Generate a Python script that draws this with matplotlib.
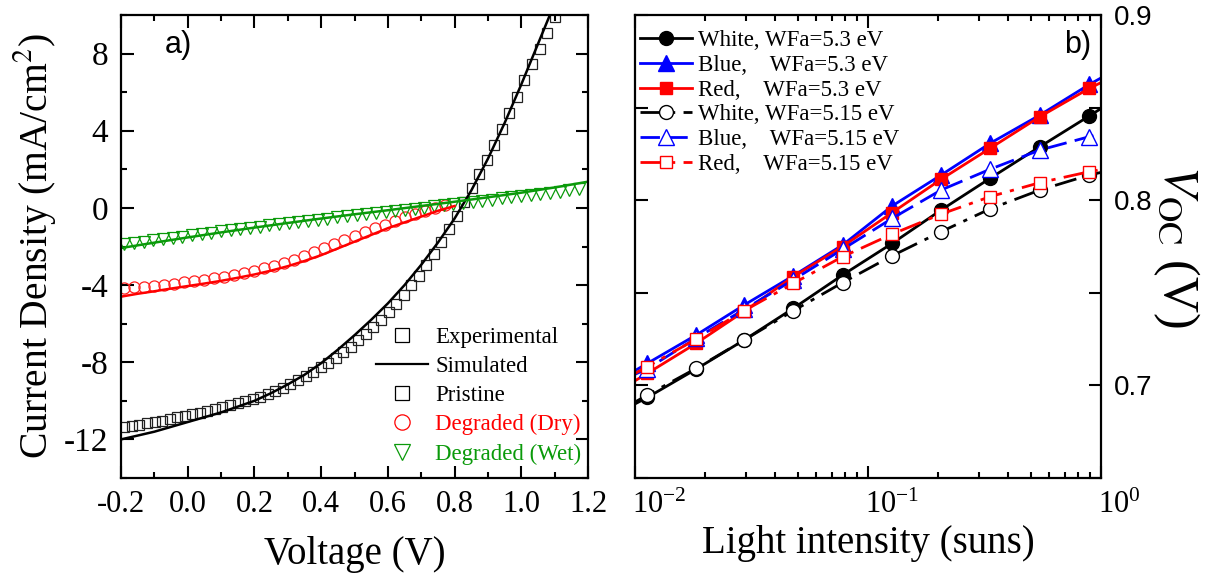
import numpy as np
import matplotlib
matplotlib.use("Agg")
import matplotlib.pyplot as plt
from matplotlib.lines import Line2D
from matplotlib.ticker import MultipleLocator, FixedLocator, FuncFormatter, LogLocator, NullFormatter
from matplotlib.transforms import ScaledTranslation

plt.rcParams['font.family'] = ['Liberation Serif', 'DejaVu Serif']
plt.rcParams['mathtext.fontset'] = 'stix'
plt.rcParams['axes.unicode_minus'] = False

# ---------------- Panel a) data ----------------
v_pristine = np.linspace(-0.19, 1.10, 58)
j_pristine = [-11.35, -11.30, -11.24, -11.17, -11.10, -11.02, -10.94, -10.86, -10.78, -10.70,
              -10.61, -10.52, -10.42, -10.33, -10.23, -10.13, -10.02, -9.92, -9.79, -9.64,
              -9.48, -9.31, -9.13, -8.93, -8.71, -8.49, -8.27, -8.02, -7.76, -7.48,
              -7.19, -6.87, -6.53, -6.17, -5.80, -5.41, -4.96, -4.51, -4.02, -3.52,
              -2.97, -2.38, -1.77, -1.10, -0.40, 0.30, 1.03, 1.76, 2.48, 3.28,
              4.07, 4.90, 5.76, 6.62, 7.45, 8.26, 9.08, 9.88]

v_dry = np.linspace(-0.19, 0.77, 33)
j_dry = [-4.15, -4.12, -4.08, -4.03, -3.98, -3.92, -3.86, -3.79, -3.72, -3.64,
         -3.56, -3.47, -3.37, -3.26, -3.14, -3.00, -2.85, -2.68, -2.50, -2.30,
         -2.10, -1.89, -1.68, -1.48, -1.27, -1.06, -0.86, -0.67, -0.49, -0.32,
         -0.16, 0.00, 0.15]

v_wet = np.linspace(-0.19, 1.173, 48)
j_wet = [-1.88, -1.82, -1.75, -1.68, -1.62, -1.55, -1.49, -1.42, -1.36, -1.29,
         -1.22, -1.16, -1.09, -1.03, -0.97, -0.91, -0.85, -0.79, -0.73, -0.67,
         -0.61, -0.55, -0.49, -0.43, -0.38, -0.32, -0.26, -0.21, -0.15, -0.10,
         -0.04, 0.02, 0.08, 0.14, 0.19, 0.25, 0.31, 0.37, 0.43, 0.49,
         0.55, 0.61, 0.67, 0.73, 0.79, 0.85, 0.91, 0.97]

v_sim_pristine = [-0.2, -0.15, -0.1, -0.05, 0.0, 0.05, 0.1, 0.15, 0.2, 0.25, 0.3, 0.35, 0.4,
                  0.45, 0.5, 0.55, 0.6, 0.65, 0.7, 0.75, 0.8, 0.85, 0.9, 0.95, 1.0, 1.05, 1.1]
j_sim_pristine = [-12.0, -11.8, -11.6, -11.35, -11.1, -10.85, -10.6, -10.3, -10.0, -9.6, -9.15,
                  -8.65, -8.05, -7.35, -6.6, -5.8, -4.95, -4.0, -2.95, -1.8, -0.55, 0.9, 2.55,
                  4.4, 6.4, 8.5, 10.6]

v_sim_dry = [-0.2, -0.15, -0.1, -0.05, 0.0, 0.05, 0.1, 0.15, 0.2, 0.25, 0.3, 0.35, 0.4,
             0.45, 0.5, 0.55, 0.6, 0.65, 0.7, 0.75, 0.8]
j_sim_dry = [-4.6, -4.45, -4.32, -4.18, -4.05, -3.92, -3.78, -3.62, -3.45, -3.25, -3.02,
             -2.75, -2.45, -2.1, -1.75, -1.4, -1.05, -0.75, -0.45, -0.15, 0.1]

v_sim_wet = [-0.2, -0.1, 0.0, 0.1, 0.2, 0.3, 0.4, 0.5, 0.6, 0.7, 0.8, 0.9, 1.0, 1.1, 1.2]
j_sim_wet = [-2.08, -1.8, -1.53, -1.27, -1.02, -0.78, -0.55, -0.33, -0.12, 0.1, 0.32,
             0.55, 0.79, 1.06, 1.36]

legend_a_labels = ['Experimental', 'Simulated', 'Pristine', 'Degraded (Dry)', 'Degraded (Wet)']

# ---------------- Panel b) data ----------------
intensity = [0.0113, 0.0183, 0.0294, 0.0478, 0.0778, 0.127, 0.206, 0.334, 0.547, 0.891]
voc_white_53 = [0.6935, 0.7088, 0.7245, 0.7416, 0.7596, 0.7767, 0.7947, 0.8118, 0.8289, 0.8455]
voc_blue_53 = [0.7119, 0.7272, 0.7434, 0.7592, 0.7758, 0.7969, 0.8136, 0.8307, 0.8460, 0.8625]
voc_red_53 = [0.7065, 0.7227, 0.7400, 0.7587, 0.7750, 0.7933, 0.8113, 0.8280, 0.8451, 0.8604]
voc_white_515 = [0.6948, 0.7092, 0.7245, 0.7403, 0.7555, 0.7700, 0.7830, 0.7953, 0.8055, 0.8136]
voc_blue_515 = [0.7090, 0.7255, 0.7410, 0.7570, 0.7735, 0.7902, 0.8055, 0.8167, 0.8271, 0.8343]
voc_red_515 = [0.7101, 0.7250, 0.7403, 0.7551, 0.7695, 0.7817, 0.7925, 0.8019, 0.8095, 0.8154]
# line values read at the frame edges (0.01 and 1 sun)
edge_x = [0.01, 1.0]
edge_white_53 = [0.690, 0.8495]
edge_blue_53 = [0.708, 0.866]
edge_red_53 = [0.7025, 0.8635]
edge_white_515 = [0.691, 0.815]
edge_blue_515 = [0.706, 0.836]
edge_red_515 = [0.7065, 0.8165]

labels_b = ['White, WFa=5.3 eV', 'Blue,    WFa=5.3 eV', 'Red,    WFa=5.3 eV',
            'White, WFa=5.15 eV', 'Blue,    WFa=5.15 eV', 'Red,    WFa=5.15 eV']

GREEN = '#0a9a0a'

fig = plt.figure(figsize=(12.16, 5.82), dpi=100)
ax1 = fig.add_axes([121/1216, 1-478/582, (588-121)/1216, (478-15)/582])
ax2 = fig.add_axes([635/1216, 1-478/582, (1101-635)/1216, (478-15)/582])

# ---- panel a
ax1.plot(v_pristine, j_pristine, ls='none', marker='s', ms=7.5, mfc='none', mec='#222222', mew=0.9)
ax1.plot(v_dry, j_dry, ls='none', marker='o', ms=8, mfc='none', mec='#ff2020', mew=0.9)
ax1.plot(v_wet, j_wet, ls='none', marker='v', ms=8.5, mfc='none', mec=GREEN, mew=0.9)
ax1.plot(v_sim_pristine, j_sim_pristine, color='black', lw=1.8)
ax1.plot(v_sim_dry, j_sim_dry, color='red', lw=1.8)
ax1.plot(v_sim_wet, j_sim_wet, color=GREEN, lw=1.8)

ax1.set_xlim(-0.2, 1.2)
ax1.set_ylim(-14, 10)
ax1.xaxis.set_major_locator(MultipleLocator(0.2))
ax1.xaxis.set_minor_locator(MultipleLocator(0.1))
ax1.yaxis.set_major_locator(FixedLocator([-12, -8, -4, 0, 4, 8]))
ax1.yaxis.set_minor_locator(MultipleLocator(2))
ax1.xaxis.set_major_formatter(FuncFormatter(lambda v, p: '%.1f' % v if abs(v) > 1e-9 else '0.0'))
ax1.yaxis.set_major_formatter(FuncFormatter(lambda v, p: '%d' % round(v)))
ax1.tick_params(which='both', direction='in', top=True, right=True, width=1.5)
ax1.tick_params(axis='x', labelsize=22)
ax1.tick_params(axis='y', labelsize=24)
ax1.tick_params(which='major', length=9, pad=9)
ax1.tick_params(which='minor', length=4.5)
ax1.set_xlabel('Voltage (V)', fontsize=28, labelpad=12)
ax1.set_ylabel('Current Density (mA/cm$^{2}$)', fontsize=28.5, labelpad=4)
for s in ax1.spines.values():
    s.set_linewidth(1.6)
ax1.text(0.094, 0.935, 'a)', transform=ax1.transAxes, fontsize=22, family='Liberation Sans',
         ha='left', va='center')

h_a = [Line2D([], [], ls='none', marker='s', ms=10, mfc='none', mec='black', mew=0.9),
       Line2D([], [], color='black', lw=1.6),
       Line2D([], [], ls='none', marker='s', ms=10, mfc='none', mec='black', mew=0.9),
       Line2D([], [], ls='none', marker='o', ms=11, mfc='none', mec='red', mew=0.9),
       Line2D([], [], ls='none', marker='v', ms=12, mfc='none', mec=GREEN, mew=0.9)]
leg_a = ax1.legend(h_a, legend_a_labels, loc='upper left', bbox_to_anchor=(0.545, 0.326),
                   frameon=False, fontsize=16.5, handlelength=2.3, handletextpad=0.3,
                   labelspacing=0.35, borderpad=0, borderaxespad=0,
                   labelcolor=['black', 'black', 'black', 'red', GREEN])

# ---- panel b
series = [
    (voc_white_53, edge_white_53, 'black', '-', 'o', 'black'),
    (voc_blue_53, edge_blue_53, 'blue', '-', '^', 'blue'),
    (voc_red_53, edge_red_53, 'red', '-', 's', 'red'),
    (voc_white_515, edge_white_515, 'black', (0, (8, 3, 1.5, 3)), 'o', 'white'),
    (voc_blue_515, edge_blue_515, 'blue', (0, (7, 3)), '^', 'white'),
    (voc_red_515, edge_red_515, 'red', (0, (8, 3, 1.5, 3)), 's', 'white'),
]
handles_b = []
for vals, edge, col, ls, mk, fc in series:
    xs = [edge_x[0]] + intensity + [edge_x[1]]
    ys = [edge[0]] + vals + [edge[1]]
    ms = 10 if mk != 's' else 9
    if mk == '^':
        ms = 11
    ln, = ax2.plot(xs, ys, color=col, ls=ls, lw=2.0, marker=mk, ms=ms, mfc=fc,
                   mec=col, mew=1.0, markevery=list(range(1, len(xs) - 1)))
    handles_b.append(ln)

ax2.set_xscale('log')
ax2.set_xlim(0.01, 1.0)
ax2.set_ylim(0.65, 0.9)
ax2.xaxis.set_major_locator(LogLocator(base=10, numticks=10))
ax2.xaxis.set_minor_locator(LogLocator(base=10, subs=np.arange(2, 10), numticks=20))
ax2.xaxis.set_minor_formatter(NullFormatter())
ax2.yaxis.set_major_locator(MultipleLocator(0.05))
ax2.yaxis.set_major_formatter(FuncFormatter(
    lambda v, p: ('%.1f' % v) if abs(v * 10 - round(v * 10)) < 1e-6 else ''))
ax2.tick_params(which='both', direction='in', top=True, right=True, left=True,
                labelleft=False, labelright=True, width=1.5)
ax2.tick_params(axis='x', labelsize=22, pad=9)
ax2.tick_params(axis='y', labelsize=20, labelfontfamily='Liberation Sans', pad=9)
ax2.tick_params(which='major', length=9)
ax2.tick_params(which='minor', length=4.5)
for s in ax2.spines.values():
    s.set_linewidth(1.6)
ax2.set_xlabel('Light intensity (suns)', fontsize=28, labelpad=4)
ax2.yaxis.set_label_position('right')
ax2.set_ylabel(r'$V_{\rm OC}$ (V)', fontsize=36, rotation=270, labelpad=36)
ax2.text(0.92, 0.935, 'b)', transform=ax2.transAxes, fontsize=22, family='Liberation Sans',
         ha='left', va='center')

ax2.legend(handles_b, labels_b, loc='upper left', bbox_to_anchor=(0.01, 0.967), frameon=False,
           fontsize=16.5, handlelength=2.3, handletextpad=0.25, labelspacing=0.16,
           borderpad=0, borderaxespad=0)

fig.canvas.draw()
shift = ScaledTranslation(-2/72, 0, fig.dpi_scale_trans)
for lbl in ax2.get_xticklabels():
    lbl.set_horizontalalignment('left')
    lbl.set_transform(lbl.get_transform() + shift)

fig.savefig('out.png', dpi=100)
